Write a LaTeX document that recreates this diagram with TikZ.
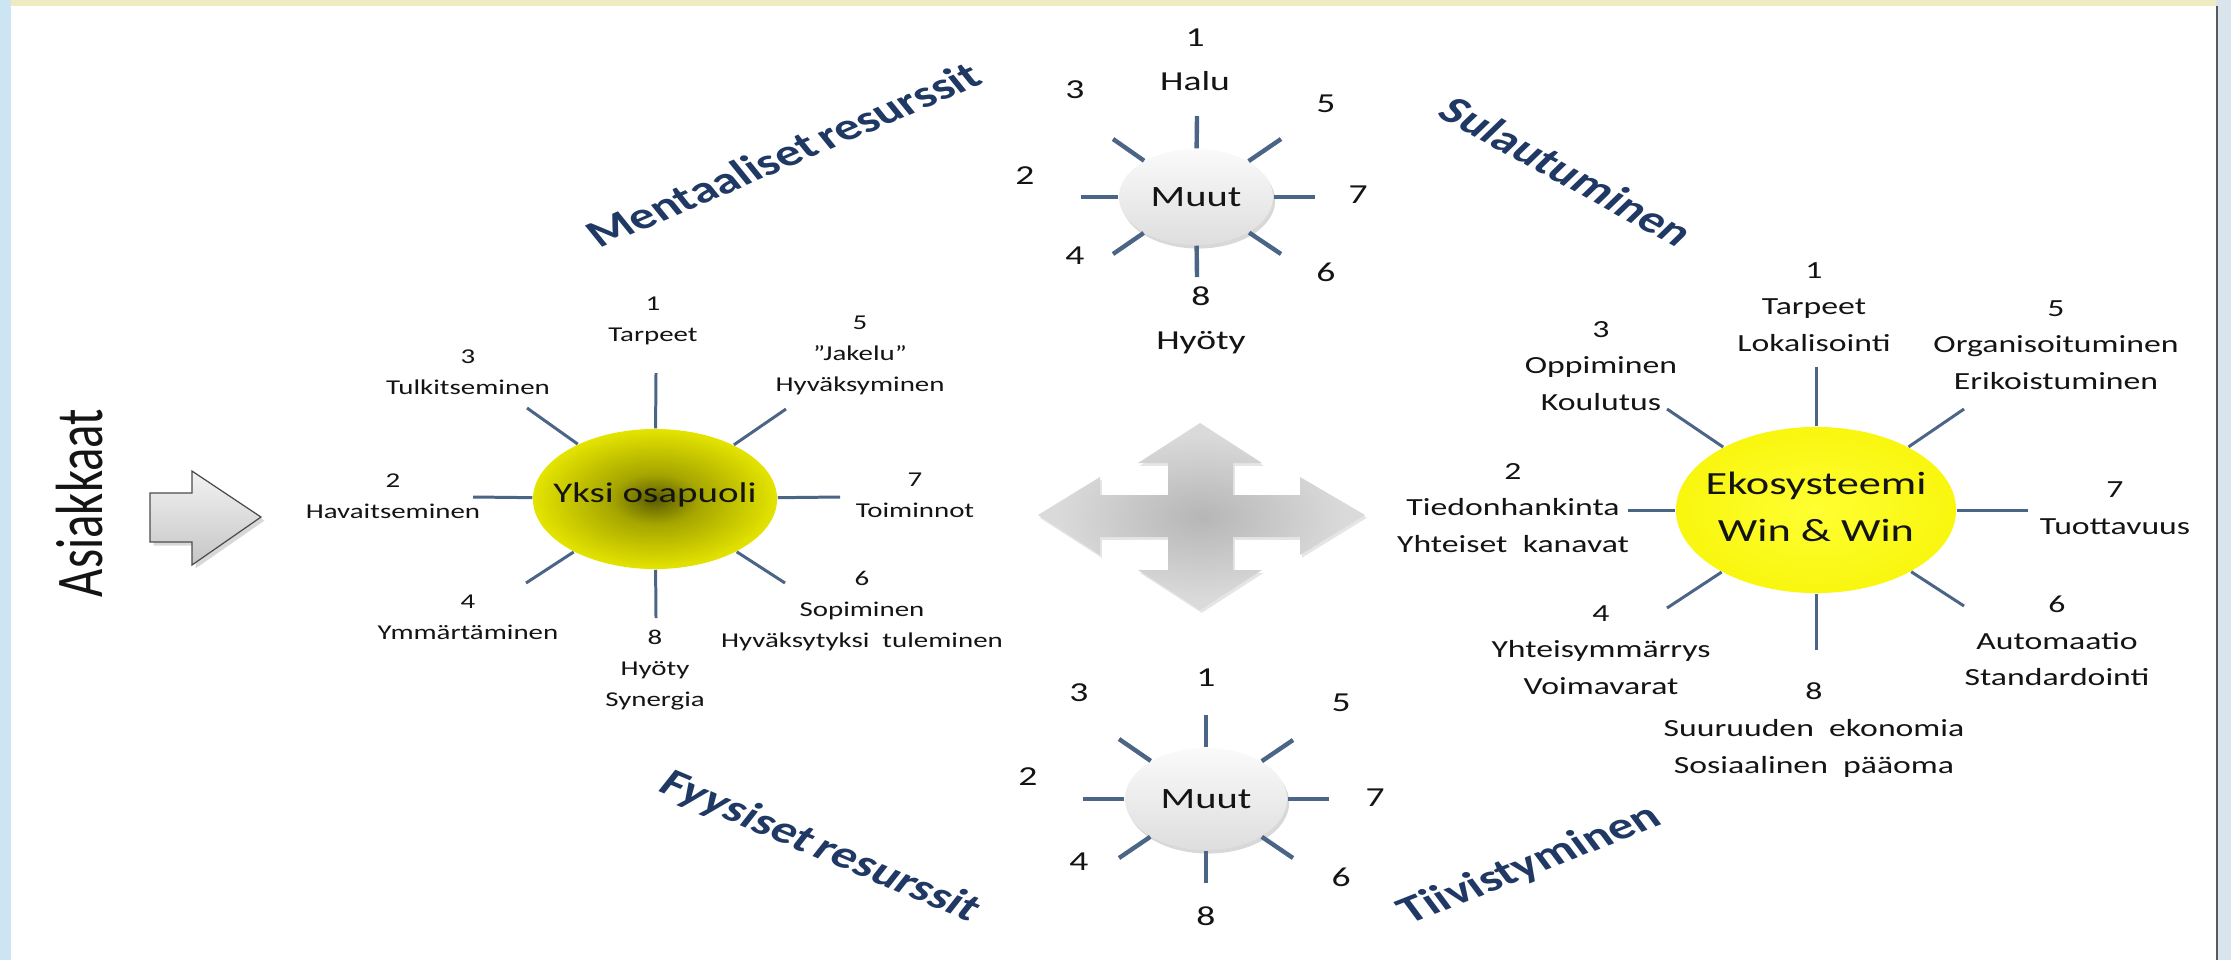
\documentclass[tikz,border=0pt]{standalone}
\usepackage{fontspec}
\setmainfont{Carlito}[FakeStretch=1.37]
\newfontfamily\asifont{Carlito}[FakeStretch=0.73]
\newfontfamily\fontMent{Carlito}[FakeStretch=1.205, FakeSlant=-0.28]
\newfontfamily\fontSula{Carlito}[FakeStretch=1.138, FakeSlant=0.308]
\newfontfamily\fontFyys{Carlito}[FakeStretch=1.21, FakeSlant=0.277]
\newfontfamily\fontTiiv{Carlito}[FakeStretch=1.224, FakeSlant=-0.268]
\usetikzlibrary{shapes.geometric,shadows}
\definecolor{raycol}{RGB}{74,101,133}
\definecolor{navy}{RGB}{31,56,100}
\definecolor{txt}{RGB}{20,20,20}
\definecolor{sunA}{RGB}{90,90,0}
\definecolor{sunB}{RGB}{165,165,0}
\definecolor{sunC}{RGB}{232,232,0}
\definecolor{sunD}{RGB}{242,242,10}
\definecolor{ekoA}{RGB}{255,255,50}
\definecolor{ekoB}{RGB}{246,242,0}
\definecolor{crossA}{RGB}{182,182,182}
\definecolor{crossB}{RGB}{218,218,218}
\definecolor{muutA}{RGB}{250,250,250}
\definecolor{muutB}{RGB}{222,222,222}
\definecolor{stripY}{RGB}{238,235,195}
\definecolor{stripB}{RGB}{205,228,242}
\definecolor{edgeR}{RGB}{217,228,236}
\pgfdeclareradialshading{sunleft}{\pgfpoint{0bp}{0bp}}{color(0bp)=(sunA); color(9bp)=(sunB); color(26bp)=(sunC); color(50bp)=(sunD)}
\pgfdeclareradialshading{sunright}{\pgfpoint{0bp}{0bp}}{color(0bp)=(ekoA); color(35bp)=(ekoB); color(50bp)=(ekoB)}
\pgfdeclareradialshading{crossshade}{\pgfpoint{0bp}{0bp}}{color(0bp)=(crossA); color(22bp)=(crossB); color(50bp)=(crossB)}
\tikzset{
 lblS/.style={align=center, text=txt, inner sep=0pt, font=\fontsize{6}{8.8}\selectfont},
 lblR/.style={align=center, text=txt, inner sep=0pt, font=\fontsize{7}{10.4}\selectfont},
 lblM/.style={align=center, text=txt, inner sep=0pt, font=\fontsize{7.8}{12.5}\selectfont},
 core/.style={align=center, text=txt, inner sep=0pt},
 rayS/.style={draw=raycol, line width=0.85pt},
 rayM/.style={draw=raycol, line width=1.25pt},
 rotlbl/.style={text=navy, inner sep=0pt},
 oval/.style={ellipse, inner sep=0pt},
 muutoval/.style={oval, top color=muutA, bottom color=muutB, drop shadow={opacity=0.3, shadow xshift=0.6pt, shadow yshift=-1pt}},
}
\begin{document}
\begin{tikzpicture}[x=0.01cm, y=-0.01cm]
\useasboundingbox (0,0) rectangle (2231,960);
\fill[white] (0,0) rectangle (2231,960);
\fill[stripY] (0,0) rectangle (2231,6);
\fill[stripB] (0,0) rectangle (11,960);
\fill[edgeR] (2216,0) rectangle (2231,960);
\draw[gray!70!black, line width=0.8pt] (2217,6) -- (2217,960);

% Asiakkaat and block arrow
\node[rotate=90, text=txt, inner sep=0pt, font=\asifont\fontsize{19}{22}\selectfont] (asi) at (80,503) {Asiakkaat};
\path[draw=gray!60!black, line width=0.35pt, top color=gray!10, bottom color=gray!45,
  drop shadow={opacity=0.3, shadow xshift=1pt, shadow yshift=-1pt}]
  (150,493) -- (192,493) -- (192,471) -- (261,517) -- (192,565) -- (192,542) -- (150,542) -- cycle;

% Left sun
\node[oval, minimum width=2.44cm, minimum height=1.40cm, shade, shading=sunleft] (ys) at (655,499) {};
\node[core, font=\fontsize{8.1}{10}\selectfont] (yst) at (655,495) {Yksi osapuoli};
\coordinate (ys1) at (656,373);
\coordinate (ys8) at (656,618);
\coordinate (ys2) at (473,497);
\coordinate (ys7) at (840,497);
\coordinate (ys3) at (527,408);
\coordinate (ys5) at (786,409);
\coordinate (ys4) at (526,583);
\coordinate (ys6) at (785,583);
\foreach \k in {1,...,8} { \draw[rayS] (ys) -- (ys\k); }
\node[lblS] (l1) at (653,321) {1\\Tarpeet};
\node[lblS] (l3) at (468,372) {3\\Tulkitseminen};
\node[lblS] (l5) at (860,355) {5\\”Jakelu”\\Hyväksyminen};
\node[lblS] (l2) at (393,496) {2\\Havaitseminen};
\node[lblS] (l7) at (915,495) {7\\Toiminnot};
\node[lblS] (l4) at (468,617) {4\\Ymmärtäminen};
\node[lblS] (l8) at (655,670) {8\\Hyöty\\Synergia};
\node[lblS] (l6) at (862,611) {6\\Sopiminen\\Hyväksytyksi\ \ tuleminen};

% Cross arrow
\path[shade, shading=crossshade, drop shadow={opacity=0.2, shadow xshift=0.5pt, shadow yshift=-0.8pt}]
  (1200,423) -- (1262,463) -- (1233,463) -- (1233,495) -- (1300,495) -- (1300,477) -- (1365,515)
  -- (1300,555) -- (1300,537) -- (1233,537) -- (1233,570) -- (1262,570) -- (1200,610)
  -- (1138,570) -- (1168,570) -- (1168,537) -- (1100,537) -- (1100,555) -- (1038,515)
  -- (1100,477) -- (1100,495) -- (1168,495) -- (1168,463) -- (1138,463) -- cycle;

% Top Muut
\node[muutoval, minimum width=1.54cm, minimum height=0.96cm] (mt) at (1196,197) {};
\node[core, font=\fontsize{8.4}{10}\selectfont] (mtt) at (mt) {Muut};
\coordinate (mt1) at (1197,116);
\coordinate (mt8) at (1197,277);
\coordinate (mt2) at (1081,197);
\coordinate (mt7) at (1315,197);
\coordinate (mt3) at (1113,139);
\coordinate (mt5) at (1281,139);
\coordinate (mt4) at (1113,254);
\coordinate (mt6) at (1281,254);
\foreach \k in {1,...,8} { \draw[rayM] (mt) -- (mt\k); }
\node[lblM] (t1) at (1195,60) {1\\Halu};
\node[lblM] (t3) at (1075,90) {3};
\node[lblM] (t5) at (1326,104) {5};
\node[lblM] (t2) at (1025,176) {2};
\node[lblM] (t7) at (1358,195) {7};
\node[lblM] (t4) at (1075,256) {4};
\node[lblM] (t6) at (1326,272) {6};
\node[lblM] (t8) at (1201,320) {8\\Hyöty};

% Bottom Muut
\node[muutoval, minimum width=1.62cm, minimum height=1.02cm] (mb) at (1206,799) {};
\node[core, font=\fontsize{8.4}{10}\selectfont] (mbt) at (mb) {Muut};
\coordinate (mb1) at (1206,715);
\coordinate (mb8) at (1206,883);
\coordinate (mb2) at (1083,799);
\coordinate (mb7) at (1329,799);
\coordinate (mb3) at (1119,739);
\coordinate (mb5) at (1293,740);
\coordinate (mb4) at (1119,858);
\coordinate (mb6) at (1293,858);
\foreach \k in {1,...,8} { \draw[rayM] (mb) -- (mb\k); }
\node[lblM] (b1) at (1206,678) {1};
\node[lblM] (b3) at (1079,693) {3};
\node[lblM] (b5) at (1341,703) {5};
\node[lblM] (b2) at (1028,777) {2};
\node[lblM] (b7) at (1375,798) {7};
\node[lblM] (b4) at (1079,862) {4};
\node[lblM] (b6) at (1341,877) {6};
\node[lblM] (b8) at (1206,916) {8};

% Right sun
\node[oval, minimum width=2.80cm, minimum height=1.66cm, shade, shading=sunright] (eko) at (1816,510) {};
\node[core, font=\fontsize{9.2}{13.4}\selectfont] (ekot) at (1816,507) {Ekosysteemi\\Win \& Win};
\coordinate (ek1) at (1816,367);
\coordinate (ek8) at (1816,650);
\coordinate (ek2) at (1628,510);
\coordinate (ek7) at (2028,510);
\coordinate (ek3) at (1667,409);
\coordinate (ek5) at (1964,409);
\coordinate (ek4) at (1667,608);
\coordinate (ek6) at (1964,606);
\foreach \k in {1,...,8} { \draw[rayS] (eko) -- (ek\k); }
\node[lblR] (r1) at (1814,307) {1\\Tarpeet\\Lokalisointi};
\node[lblR] (r3) at (1601,366) {3\\Oppiminen\\Koulutus};
\node[lblR] (r5) at (2056,345) {5\\Organisoituminen\\Erikoistuminen};
\node[lblR] (r2) at (1513,508) {2\\Tiedonhankinta\\Yhteiset\ \ kanavat};
\node[lblR] (r7) at (2115,508) {7\\Tuottavuus};
\node[lblR] (r4) at (1601,650) {4\\Yhteisymmärrys\\Voimavarat};
\node[lblR] (r6) at (2057,641) {6\\Automaatio\\Standardointi};
\node[lblR] (r8) at (1814,730) {8\\Suuruuden\ \ ekonomia\\Sosiaalinen\ \ pääoma};

% Rotated labels
\node[rotlbl, rotate=23.3, font=\fontMent\fontsize{11.5}{13}\selectfont\bfseries] (ment) at (787,153) {Mentaaliset\,resurssit};
\node[rotlbl, rotate=-28.8, font=\fontSula\fontsize{11.85}{13}\selectfont\bfseries] (sula) at (1563,169) {Sulautuminen};
\node[rotlbl, rotate=-22.85, font=\fontFyys\fontsize{11.5}{13}\selectfont\bfseries] (fyys) at (817,846) {Fyysiset\,resurssit};
\node[rotlbl, rotate=21.6, font=\fontTiiv\fontsize{11.45}{13}\selectfont\bfseries] (tiiv) at (1533,864) {Tiivistyminen};
\end{tikzpicture}
\end{document}
